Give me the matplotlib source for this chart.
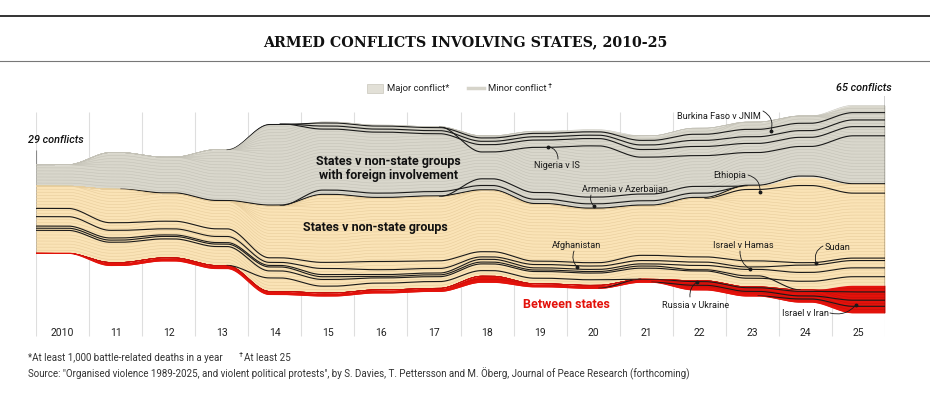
import numpy as np
import pandas as pd
import matplotlib
matplotlib.use('Agg')
import matplotlib.pyplot as plt
from matplotlib.lines import Line2D
from matplotlib.patches import Rectangle

plt.rcParams['font.family'] = ['Roboto', 'DejaVu Sans']

nan = np.nan

# Data: conflicts per year by type
years = list(range(2010, 2026))
year_labels = ['2010'] + [str(y)[2:] for y in years[1:]]
foreign = [7, 12, 12, 17, 27, 24, 24, 23, 18, 24, 26, 23, 23, 21, 20, 26]
nonstate = [22, 24, 21, 21, 28, 32, 30, 30, 28, 26, 25, 24, 27, 33, 37, 33]
interstate = [0, 1, 1, 1, 1, 1, 1, 1, 2, 1, 1, 1, 3, 3, 4, 9]

# highlighted (major) strands, offset in conflicts from an edge of their band
foreign_from_top = [
    [nan, nan, nan, nan, 0.3, 0.3, 0.3, 0.3, 0.7, 0.7, 0.7, 1.5, 2.0, 2.4, 2.4, 2.4],
    [nan, nan, nan, nan, nan, 1.3, 1.3, 1.3, 1.8, 1.8, 1.8, 3.0, 4.0, 4.8, 4.8, 4.8],
    [nan, nan, nan, nan, nan, 2.3, 2.3, 2.3, 2.9, 2.9, 2.9, 4.5, 6.0, 7.0, 7.0, 7.0],
    [nan] * 8 + [5.3, 5.3, 5.3, 7.0, 9.0, 10.0, 10.0, 10.0],
]
foreign_from_bottom = [
    [nan, nan] + [0.3] * 14,
    [nan] * 5 + [1.7] * 8 + [nan] * 3,
    [nan] * 8 + [3.9] * 5 + [nan] * 3,
]
nonstate_from_top = [
    [nan] * 13 + [1.1, 2.8, 2.8],
]
nonstate_from_bottom = [
    [14.7, 13, 12, 12, 11, 10, 9.3, 9, 8, 7.4, 7.4, 7.8, 7.8, 8.5, 8.9, 8.9],
    [12, 10.5, 9.5, 9.5, 9.5, 8, 6.6, 6.5, 6.3, 6.3, 6.3, 6.1, 6.1, 6.5, 8.1, 8.1],
    [8.9, 8, 7.5, 7.5, 8.5, 6, 5, 5, 5.5, 5.2, 5.2, 5, 5, 5.7, 5.7, 5.7],
    [8.2, 7.3, 7, 7, 8, 5.3, 4.4, 4.4, 4.6, 4.5, 4.5, 4.3, 3.6, 3.6, nan, nan],
    [7.5, 6.6, 6.2, 6.2, 6.7, 4.4, 3.9, 3.8, 4, 4, 4, 3.6, 3.2, 2.8, 2.8, 2.8],
    [nan] * 4 + [4.4, 2.2, 2.2, 2.2, 1.8, 1.8, 1.8] + [nan] * 5,
]
interstate_from_bottom = [
    [nan] * 11 + [1.0, 2.7, 2.7, 3.5, 6.8],
    [nan] * 12 + [1.5, 1.5, 2.0, 4.1],
    [nan] * 14 + [1.0, 2.1],
]

GREY, GREY_LN = '#d9d7cc', '#c4c2b7'
BEIGE, BEIGE_LN = '#fae3b6', '#e8cd9c'
RED, RED_LN = '#e3120b', '#c80f09'
INK = '#1a1a1a'

# stacking, centred on zero
g = np.array(foreign, float)
b = np.array(nonstate, float)
r = np.array(interstate, float)
total = g + b + r
red_bot = -total / 2
red_top = red_bot + r
beige_top = red_top + b
grey_top = beige_top + g

xs = np.linspace(-0.5, len(years) - 0.5, 1600)
W = 0.8


def smooth(vals):
    y = np.full(xs.shape, float(vals[0]))
    for i in range(len(vals) - 1):
        t = np.clip((xs - (i + 0.5)) / W + 0.5, 0, 1)
        y += (vals[i + 1] - vals[i]) * t * t * (3 - 2 * t)
    return y


fig = plt.figure(figsize=(9.3, 4.02), dpi=100)
S = 3.05  # px per conflict
ax = fig.add_axes([36 / 930, 1 - 340 / 402, 849 / 930, 243 / 402])
ax.set_xlim(-0.5, len(years) - 0.5)
ax.set_ylim(-(340 - 210) / S, (210 - 97) / S)
ax.axis('off')


def py(p):
    return (210 - p) / S


def px(p):
    return (p - 36) / (849 / 16) - 0.5


# gridlines
ax.vlines(np.arange(len(years) + 1) - 0.5, py(337), py(113), color='#dedede', lw=0.8, zorder=0)
ax.vlines(-0.5, red_bot[0], grey_top[0] + 5, color='#8a8a8a', lw=0.8, zorder=1)
ax.vlines(len(years) - 0.5, red_bot[-1], grey_top[-1] + 3.3, color='#111111', lw=1.0, zorder=5)

s_rb, s_rt, s_bt, s_gt = smooth(red_bot), smooth(red_top), smooth(beige_top), smooth(grey_top)
band_grey = ax.fill_between(xs, s_bt, s_gt, color=GREY, lw=0, zorder=2)
band_beige = ax.fill_between(xs, s_rt, s_bt, color=BEIGE, lw=0, zorder=2)
band_red = ax.fill_between(xs, s_rb, s_rt, color=RED, lw=0, zorder=2)

# thin strands, one per conflict
for k in range(1, int(g.max())):
    ax.plot(xs, smooth(beige_top + np.minimum(k, g)), color=GREY_LN, lw=0.4, zorder=3)
for k in range(1, int(b.max())):
    ax.plot(xs, smooth(red_top + np.minimum(k, b)), color=BEIGE_LN, lw=0.4, zorder=3)
for k in range(1, int(r.max())):
    ax.plot(xs, smooth(red_bot + np.minimum(k, r)), color=RED_LN, lw=0.4, zorder=3)
ax.plot(xs, s_rb, color=RED, lw=0.9, zorder=4)


def major(offsets, edge, sign, band):
    off = pd.Series(offsets, dtype=float)
    idx = np.where(off.notna().to_numpy())[0]
    y = smooth(edge + sign * off.fillna(0).to_numpy())
    y[(xs < idx[0] - 0.5 - W / 2) | (xs > idx[-1] + 0.5 + W / 2)] = nan
    line, = ax.plot(xs, y, color=INK, lw=0.8, zorder=4)
    line.set_clip_path(band.get_paths()[0], ax.transData)


for k in foreign_from_top:
    major(k, grey_top, -1, band_grey)
for k in foreign_from_bottom:
    major(k, beige_top, 1, band_grey)
for k in nonstate_from_top:
    major(k, beige_top, -1, band_beige)
for k in nonstate_from_bottom:
    major(k, red_top, 1, band_beige)
for k in interstate_from_bottom:
    major(k, red_bot, 1, band_red)

# year labels
for i, lab in enumerate(year_labels):
    ax.text(i, py(333), lab, ha='center', va='center', fontsize=7.5, color='#222222')

# end labels
ax.text(-0.5 - 8 / 53, grey_top[0] + 8.3, '29 conflicts', ha='left', va='center',
        fontsize=7.8, style='italic', weight='medium', color='#111111')
ax.text(len(years) - 0.5 + 7 / 53, py(88), '65 conflicts', ha='right', va='center',
        fontsize=7.8, style='italic', weight='medium', color='#111111')

# band labels
ax.text(px(388), py(168.5), 'States v non-state groups\nwith foreign involvement', ha='center',
        va='center', fontsize=9, weight='bold', color='#111111', linespacing=1.1, zorder=6)
ax.text(px(375), py(227), 'States v non-state groups', ha='center', va='center',
        fontsize=9, weight='bold', color='#111111', zorder=6)
ax.text(px(566), py(304), 'Between states', ha='center', va='center',
        fontsize=9, weight='bold', color=RED, zorder=6)

notes = [
    ('Nigeria v IS', (557, 166), (558, 160), (548, 147.5), 0.4),
    ('Armenia v Azerbaijan', (625, 189), (591, 196), (594, 207), 0.3),
    ('Afghanistan', (577, 245), (574, 252), (577, 268), 0.3),
    ('Burkina Faso v JNIM', (719, 116), (763, 112), (771, 132), -0.4),
    ('Ethiopia', (730, 175), (748, 176), (760, 193), -0.4),
    ('Israel v Hamas', (743, 245), (740, 252), (750, 270), 0.3),
    ('Sudan', (838, 247), (823, 247), (816, 264), 0.4),
    ('Russia v Ukraine', (696, 306), (690, 298), (697, 283), -0.3),
    ('Israel v Iran', (805, 314), (830, 314), (856, 306), 0.3),
]
for label, tpos, start, end, rad in notes:
    ax.text(px(tpos[0]), py(tpos[1]), label, ha='center', va='center', fontsize=6.6,
            color=INK, zorder=7)
    ax.annotate('', xy=(px(end[0]), py(end[1])), xytext=(px(start[0]), py(start[1])),
                arrowprops=dict(arrowstyle='-', lw=0.6, color=INK,
                                connectionstyle=f'arc3,rad={rad}', shrinkA=0, shrinkB=0),
                zorder=7)
    ax.plot(px(end[0]), py(end[1]), 'o', ms=1.8, color=INK, zorder=7)

# title and rules
fig.add_artist(Line2D([0, 1], [1 - 17 / 402] * 2, color='#111111', lw=1.2))
fig.add_artist(Line2D([0, 1], [1 - 62 / 402] * 2, color='#777777', lw=0.8))
fig.text(0.5, 1 - 42 / 402, 'ARMED CONFLICTS INVOLVING STATES, 2010-25', ha='center',
         va='center', family='DejaVu Serif', weight='bold', fontsize=10.3, color='#111111')

# legend
fig.add_artist(Rectangle((367 / 930, 1 - 94 / 402), 16 / 930, 9 / 402, transform=fig.transFigure,
                         facecolor='#e2e0d7', edgecolor='#c8c6bc', lw=0.5))
fig.text(387 / 930, 1 - 89 / 402, 'Major conflict*', ha='left', va='center', fontsize=6.8,
         color='#222222')
fig.add_artist(Line2D([468 / 930, 484 / 930], [1 - 89 / 402] * 2, color='#d6d4ca', lw=2.5))
fig.text(488 / 930, 1 - 89 / 402, 'Minor conflict', ha='left', va='center', fontsize=6.8,
         color='#222222')
fig.text(548 / 930, 1 - 86 / 402, '†', ha='left', va='center', fontsize=5.5, color='#222222')

# footnotes
fig.text(28 / 930, 1 - 358 / 402, '*At least 1,000 battle-related deaths in a year',
         ha='left', va='center', fontsize=7, color='#333333')
fig.text(239 / 930, 1 - 355 / 402, '†', ha='left', va='center', fontsize=5.5, color='#333333')
fig.text(244 / 930, 1 - 358 / 402, 'At least 25', ha='left', va='center', fontsize=7,
         color='#333333')
fig.text(28 / 930, 1 - 374 / 402,
         'Source: "Organised violence 1989-2025, and violent political protests", by S. Davies, '
         'T. Pettersson and M. Öberg, Journal of Peace Research (forthcoming)',
         ha='left', va='center', fontsize=7, color='#333333')

fig.savefig('out.png', dpi=100, facecolor='white')
